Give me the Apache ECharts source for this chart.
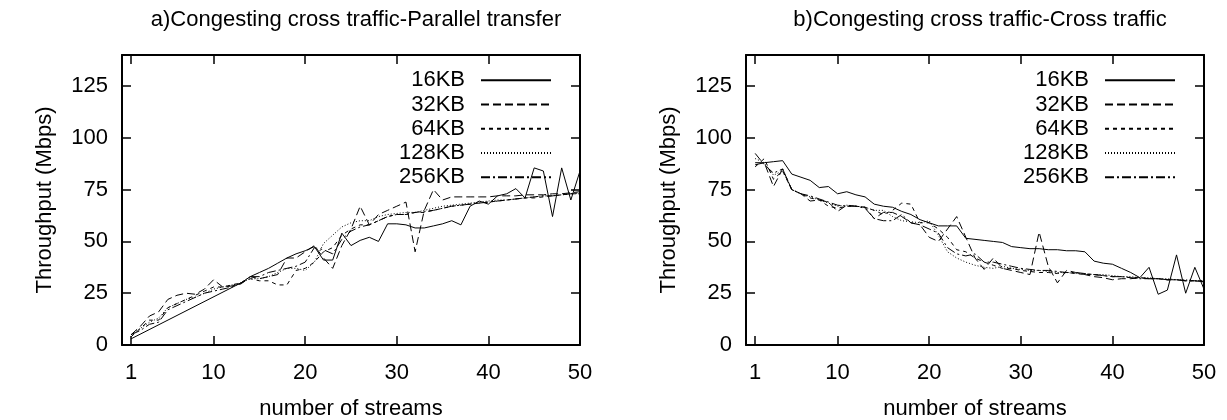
<!DOCTYPE html>
<html>
<head>
<meta charset="utf-8">
<script src="https://cdn.jsdelivr.net/npm/echarts@6/dist/echarts.min.js"></script>
<style>
html,body{margin:0;padding:0;background:#fff;}
#chart{width:1227px;height:420px;}
</style>
</head>
<body>
<div id="chart"></div>
<script>
// ---- data ----
const streams = [1,2,3,4,5,6,7,8,9,10,11,12,13,14,15,16,17,18,19,20,21,22,23,24,25,26,27,28,29,30,31,32,33,34,35,36,37,38,39,40,41,42,43,44,45,46,47,48,49,50];
const seriesNames = ['16KB','32KB','64KB','128KB','256KB'];
const xTicks = [1,10,20,30,40,50];
const yTicks = [0,25,50,75,100,125];
const titles = ['a)Congesting cross traffic-Parallel transfer','b)Congesting cross traffic-Cross traffic'];

// a) Parallel transfer
const a16 = [3,null,null,null,null,null,null,null,null,null,null,null,30,33,35,37,39.5,42,44,45.5,47.5,41,41,54,48,50.5,52,50,58.5,58.5,58,56.5,56.5,57.5,58.5,60,58,67,69.5,68,72,73,75.5,71,85.5,84,62,85.5,70,84];
const a32 = [5,9,14,16,22,24,25,24.5,27,31.5,28,28.5,29.5,33,32,33,34,42,42,45,48,42,37,48,56,67,58,63,65,67,69,45,65,75,70,71.5,71.5,71.5,71.5,71.5,72,72,72,72.5,72.5,72.5,73,73,73.5,74];
const a64 = [4,8,12,12,18,20,22,24,26,28,28,29,30,32,31,31,29,29,36,37,40,45,47,53,56,58,58,60,62,63,63,64,64,65,66,67,67.5,68,68.5,69,69.5,70,70.5,71,71,71.5,72,72.5,73,73];
const a128 = [5,8,11,13,18,20,22,23,25,27,28,29,30,32,32,33,35,37,37,36,40,49,53,57,59,60,60,62,63,63.5,64,64,65,66,67,67.5,68,68.5,69,69.5,70,70,70.5,71,71.5,72,72,72.5,73,73];
const a256 = [5,7,10,11,17,19,21,23,25,26,27,28,30,33,33,35,36,37,38,40,47,46,44,51,55,57,58,60,62,63,63,64,64.5,65,66,67,67.5,68,68.5,69,69.5,70,70.5,71,71.5,72,72,72.5,73,73.5];

// b) Cross traffic
const b16 = [88,88,88.5,89,82.5,81,79.5,76,76.5,73,74,72.5,71.5,68,67,66.5,64.5,63,60.5,59,57.5,57.5,57.5,51.5,51,50.5,50,49.5,47.5,47,46.5,46.5,46,46,45.5,45.5,45,40.5,39.5,39,37,35,32.5,37.5,24.5,26.5,43.5,25,37.5,27];
const b32 = [87,88,76.5,85,75,73,69.5,70,69,64.5,67.5,67,66.5,61,64,64,62,59,58,52,50,56,62,52,42,36.5,42,37,36,35,34,54.5,38,30,36,35,34,33,32.5,31.5,32,32,32.5,32,32,31.5,31.5,31,31,30.5];
const b64 = [86,90,80,84,75,73,71,70,67,66,67,67,66.5,65,63,65,68.5,68,59,59,56,52,46,45,42,40,38.5,37,37,36,35.5,35,35,34.5,35,34.5,34,34,33.5,33,33,32.5,32.5,32,32,31.5,31.5,31,31,31];
const b128 = [90,88,82,84,75,73,71.5,70,68.5,67,67.5,67,66.5,65,65,62,60,59.5,59,60,53,45,42,40,38.5,37.5,37,38,37,36.5,36,36,35.5,35,35,34.5,34.5,34,34,33.5,33,33,32.5,32.5,32,32,31.5,31.5,31,31];
const b256 = [92.5,87,83,85,75,73,72,70.5,69,67.5,67,67,66,61,60,60,63,59,58,56,54,47,44,43,44,40,40,39,38,37,36.5,36,36,35.5,35,35,34.5,34,33.5,33,33,32.5,32,32,32,31.5,31.5,31,31,30.5];

const panelA = [a16,a32,a64,a128,a256];
const panelB = [b16,b32,b64,b128,b256];

// ---- styles ----
const FONT = '"Liberation Sans", Arial, Helvetica, sans-serif';
const dashes = ['solid',[8,4],[4,4],[1,2],[9,3,2,3]];
const grids = [
  {left:122, top:55, width:458, height:290, outerBoundsMode:'none', containLabel:false},
  {left:746, top:55, width:458, height:290, outerBoundsMode:'none', containLabel:false}
];

function pairs(arr){ return streams.map((x,i)=>[x, arr[i]]); }

const frameLine = {show:true, onZero:false, lineStyle:{color:'#000', width:2}};
const tickStyle = {color:'#000', width:1.5};
function ticks(vals){ return {show:true, inside:true, length:9, customValues:vals, lineStyle:tickStyle}; }
const noLabel = {show:false};
const noSplit = {show:false};

const xAxis = [], yAxis = [], series = [], legend = [], title = [];
grids.forEach((g, gi) => {
  xAxis.push({
    type:'value', gridIndex:gi, min:0, max:50, position:'bottom',
    axisLine: frameLine, axisTick: ticks(xTicks),
    axisLabel:{show:true, customValues:xTicks, color:'#000', fontSize:22, fontFamily:FONT, margin:17},
    splitLine:noSplit,
    name:'number of streams', nameLocation:'middle', nameGap:53,
    nameTextStyle:{color:'#000', fontSize:22, fontFamily:FONT}
  });
  xAxis.push({
    type:'value', gridIndex:gi, min:0, max:50, position:'top',
    axisLine: frameLine, axisTick: ticks(xTicks), axisLabel: noLabel, splitLine: noSplit
  });
  yAxis.push({
    type:'value', gridIndex:gi, min:0, max:140, position:'left',
    axisLine: frameLine, axisTick: ticks(yTicks),
    axisLabel:{show:true, customValues:yTicks, color:'#000', fontSize:22, fontFamily:FONT, margin:14},
    splitLine:noSplit,
    name:'Throughput (Mbps)', nameLocation:'middle', nameGap:66, nameRotate:90,
    nameTextStyle:{color:'#000', fontSize:22, fontFamily:FONT}
  });
  yAxis.push({
    type:'value', gridIndex:gi, min:0, max:140, position:'right',
    axisLine: frameLine, axisTick: ticks(yTicks), axisLabel: noLabel, splitLine: noSplit
  });

  const data = gi === 0 ? panelA : panelB;
  seriesNames.forEach((nm, si) => {
    series.push({
      type:'line', name:nm, xAxisIndex:gi*2, yAxisIndex:gi*2,
      data: pairs(data[si]), showSymbol:false, symbol:'none', connectNulls:true,
      animation:false,
      lineStyle:{color:'#000', width:1, type:dashes[si]},
      itemStyle:{color:'#000'}
    });
  });
  legend.push({
    data: seriesNames, orient:'vertical', align:'right',
    right: gi === 0 ? 1227-552 : 1227-1176, top:68,
    itemWidth:70, itemHeight:14, itemGap:0, padding:0,
    selectedMode:false,
    itemStyle:{opacity:0, color:'rgba(0,0,0,0)', borderWidth:0},
    textStyle:{color:'#000', fontSize:22, fontFamily:FONT, lineHeight:24.3, padding:[0,11,0,0]}
  });
  title.push({
    text: titles[gi], left: g.left + g.width/2, textAlign:'center', top:4,
    textStyle:{color:'#000', fontSize:22, fontWeight:'normal', fontFamily:FONT}
  });
});

const chart = echarts.init(document.getElementById('chart'), null, {renderer:'canvas'});
chart.setOption({
  animation:false,
  backgroundColor:'#fff',
  title, legend, grid:grids, xAxis, yAxis, series
});
</script>
</body>
</html>
